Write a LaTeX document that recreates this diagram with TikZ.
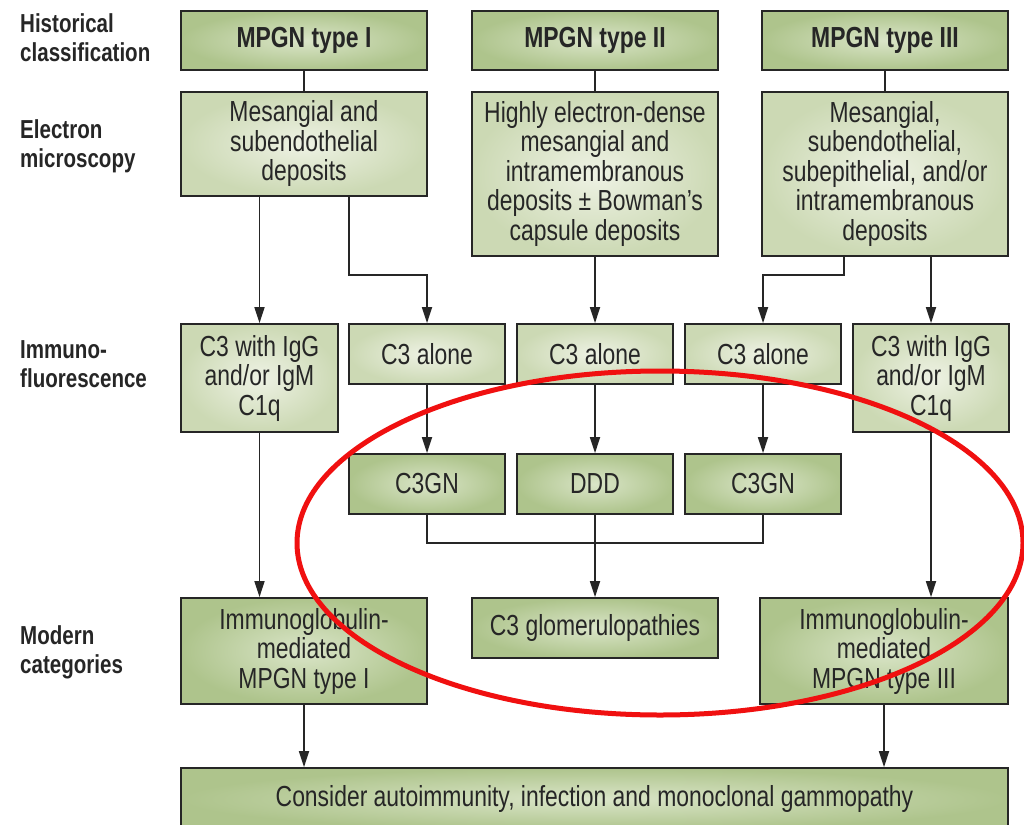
\documentclass[tikz,border=0pt]{standalone}
\usepackage{fontspec}
\setmainfont{Liberation Sans}[FakeStretch=0.79]
\usetikzlibrary{arrows.meta}
\definecolor{txt}{HTML}{262626}
\definecolor{dkin}{HTML}{DAE5C8}
\definecolor{dkout}{HTML}{AEC48C}
\definecolor{ltin}{HTML}{EEF2E4}
\definecolor{ltout}{HTML}{CCD9B4}
\definecolor{ringred}{HTML}{F01010}
\begin{document}
\begin{tikzpicture}[x=1pt,y=-1pt,
 box/.style={draw=black!85, line width=1.7pt, text=txt, align=center, inner sep=0pt,
   font=\fontsize{29}{29.5}\selectfont},
 dk/.style={box, inner color=dkin, outer color=dkout},
 lt/.style={box, inner color=ltin, outer color=ltout},
 hb/.style={dk, font=\fontsize{29}{29.5}\selectfont\bfseries},
 conn/.style={draw=black!85, line width=1.7pt},
 arr/.style={conn, -{Triangle[length=16pt,width=10pt]}},
 lab/.style={anchor=west, align=left, text=txt, inner sep=0pt,
   font=\fontsize{26}{29}\selectfont\bfseries}]
\useasboundingbox (0,0) rectangle (1024,824);
\fill[white] (0,0) rectangle (1024,824);

% row labels
\node[lab] (l1) at (20,38) {Historical\\classification};
\node[lab] (l2) at (20,146) {Electron\\microscopy};
\node[lab] (l3) at (20,364) {Immuno-\\fluorescence};
\node[lab] (l4) at (20,652) {Modern\\categories};

% historical
\node[hb, minimum width=246pt, minimum height=59pt] (h1) at (304,40.5) {MPGN type I};
\node[hb, minimum width=246pt, minimum height=59pt] (h2) at (595,40.5) {MPGN type II};
\node[hb, minimum width=246pt, minimum height=59pt] (h3) at (885,40.5) {MPGN type III};

% electron microscopy
\node[lt, minimum width=246pt, minimum height=104pt] (e1) at (304,144) {Mesangial and\\subendothelial\\deposits};
\node[lt, minimum width=246pt, minimum height=164pt] (e2) at (595,174) {Highly electron-dense\\mesangial and\\intramembranous\\deposits ± Bowman's\\capsule deposits};
\node[lt, minimum width=246pt, minimum height=164pt] (e3) at (885,174) {Mesangial,\\subendothelial,\\subepithelial, and/or\\intramembranous\\deposits};

% immunofluorescence
\node[lt, minimum width=157pt, minimum height=108pt] (i1) at (259.5,378) {C3 with IgG\\and/or IgM\\C1q};
\node[lt, minimum width=156pt, minimum height=60pt] (a1) at (427,354) {C3 alone};
\node[lt, minimum width=156pt, minimum height=60pt] (a2) at (595,354) {C3 alone};
\node[lt, minimum width=156pt, minimum height=60pt] (a3) at (763,354) {C3 alone};
\node[lt, minimum width=156pt, minimum height=108pt] (i3) at (931,378) {C3 with IgG\\and/or IgM\\C1q};

% C3GN row
\node[dk, minimum width=156pt, minimum height=60pt] (g1) at (427,484) {C3GN};
\node[dk, minimum width=156pt, minimum height=60pt] (g2) at (595,484) {DDD};
\node[dk, minimum width=156pt, minimum height=60pt] (g3) at (763,484) {C3GN};

% modern
\node[dk, minimum width=246pt, minimum height=106pt] (m1) at (304,651) {Immunoglobulin-\\mediated\\MPGN type I};
\node[dk, minimum width=246pt, minimum height=60pt] (m2) at (595,628) {C3 glomerulopathies};
\node[dk, minimum width=248pt, minimum height=106pt] (m3) at (884,651) {Immunoglobulin-\\mediated\\MPGN type III};

\node[dk, minimum width=827pt, minimum height=62pt] (cons) at (594.5,799) {Consider autoimmunity, infection and monoclonal gammopathy};

% connectors
\draw[conn] (h1) -- (e1);
\draw[conn] (h2) -- (e2);
\draw[conn] (h3) -- (e3);

\coordinate (k1) at (349,275);
\coordinate (k3) at (844,275);
\draw[arr] (e1.south -| i1.north) -- (i1.north);
\draw[arr] (e1.south -| k1) -- (k1) -| (a1.north);
\draw[arr] (e2.south) -- (a2.north);
\draw[arr] (e3.south -| k3) -- (k3) -| (a3.north);
\draw[arr] (e3.south -| i3.north) -- (i3.north);

\draw[arr] (a1) -- (g1);
\draw[arr] (a2) -- (g2);
\draw[arr] (a3) -- (g3);

\coordinate (j) at (595,543);
\draw[conn] (g1.south) |- (j) -| (g3.south);
\draw[arr] (g2.south) -- (m2.north);

\draw[arr] (i1.south) -- (i1.south |- m1.north);
\draw[arr] (i3.south) -- (i3.south |- m3.north);
\draw[arr] (m1.south) -- (m1.south |- cons.north);
\draw[arr] (m3.south) -- (m3.south |- cons.north);

% red ring
\draw[ringred, line width=5pt] (660,543) ellipse [x radius=363pt, y radius=172pt];
\end{tikzpicture}
\end{document}
